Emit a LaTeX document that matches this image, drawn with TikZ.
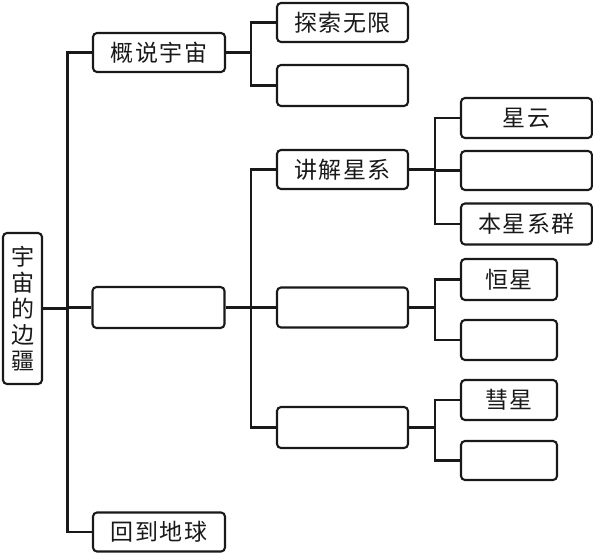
\documentclass[tikz,border=0pt]{standalone}
\usepackage{fontspec}
\newfontfamily\cjk[LetterSpace=6]{Noto Sans CJK SC}
\begin{document}
\begin{tikzpicture}[x=1pt,y=-1pt,
  box/.style={draw=black!90,line width=2.1pt,rounded corners=4pt,inner sep=0pt,
    font=\cjk\fontsize{23}{26}\selectfont,text=black!90},
  wbox/.style={box,minimum width=132pt,minimum height=40pt},
  nbox/.style={box,minimum width=96pt,minimum height=40pt},
  link/.style={draw=black!90,line width=2.1pt}]
\useasboundingbox (0,0) rectangle (593,553);
% root
\node[box,minimum width=39pt,minimum height=151pt,align=center] (root) at (22.5,308.5)
  {宇\\宙\\的\\边\\疆};
% level 1
\node[wbox,minimum height=39pt] (gs) at (159,52.5) {概说宇宙};
\node[wbox,minimum height=41pt] (m1) at (158.5,307.5) {};
\node[wbox,minimum height=39pt] (hd) at (159,532) {回到地球};
% level 2
\node[wbox,minimum width=131pt,minimum height=39pt] (ts) at (342.5,22.5) {探索无限};
\node[wbox,minimum width=131pt,minimum height=41pt] (e1) at (342.5,85.5) {};
\node[wbox,minimum width=131pt,minimum height=39pt] (jj) at (342.5,169.5) {讲解星系};
\node[wbox,minimum width=131pt,minimum height=40pt] (m2) at (342.5,307.5) {};
\node[wbox,minimum width=131pt,minimum height=41pt] (m3) at (342.5,427.5) {};
% level 3
\node[wbox,minimum width=131pt] (xy) at (526.5,118) {星云};
\node[wbox,minimum width=131pt,minimum height=39pt] (e2) at (526.5,170.5) {};
\node[wbox,minimum width=131pt,minimum height=41pt] (bx) at (526.5,224) {本星系群};
\node[nbox,minimum height=41pt] (hx) at (509,279.5) {恒星};
\node[nbox] (e3) at (509,340) {};
\node[nbox] (hh) at (509,400) {彗星};
\node[nbox,minimum height=39pt] (e4) at (509,460.5) {};
% bus coordinates
\coordinate (b0) at (67.5,0);
\coordinate (b1) at (251,0);
\coordinate (b2) at (435,0);
% connectors
\draw[link] (root.east) -- (root.east -| b0);
\foreach \c in {gs,m1,hd} \draw[link] (root.east -| b0) |- (\c.west);
\draw[link] (gs.east) -- (gs.east -| b1);
\foreach \c in {ts,e1} \draw[link] (gs.east -| b1) |- (\c.west);
\draw[link] (m1.east) -- (m1.east -| b1);
\foreach \c in {jj,m2,m3} \draw[link] (m1.east -| b1) |- (\c.west);
\draw[link] (jj.east) -- (jj.east -| b2);
\foreach \c in {xy,e2,bx} \draw[link] (jj.east -| b2) |- (\c.west);
\draw[link] (m2.east) -- (m2.east -| b2);
\foreach \c in {hx,e3} \draw[link] (m2.east -| b2) |- (\c.west);
\draw[link] (m3.east) -- (m3.east -| b2);
\foreach \c in {hh,e4} \draw[link] (m3.east -| b2) |- (\c.west);
\end{tikzpicture}
\end{document}
